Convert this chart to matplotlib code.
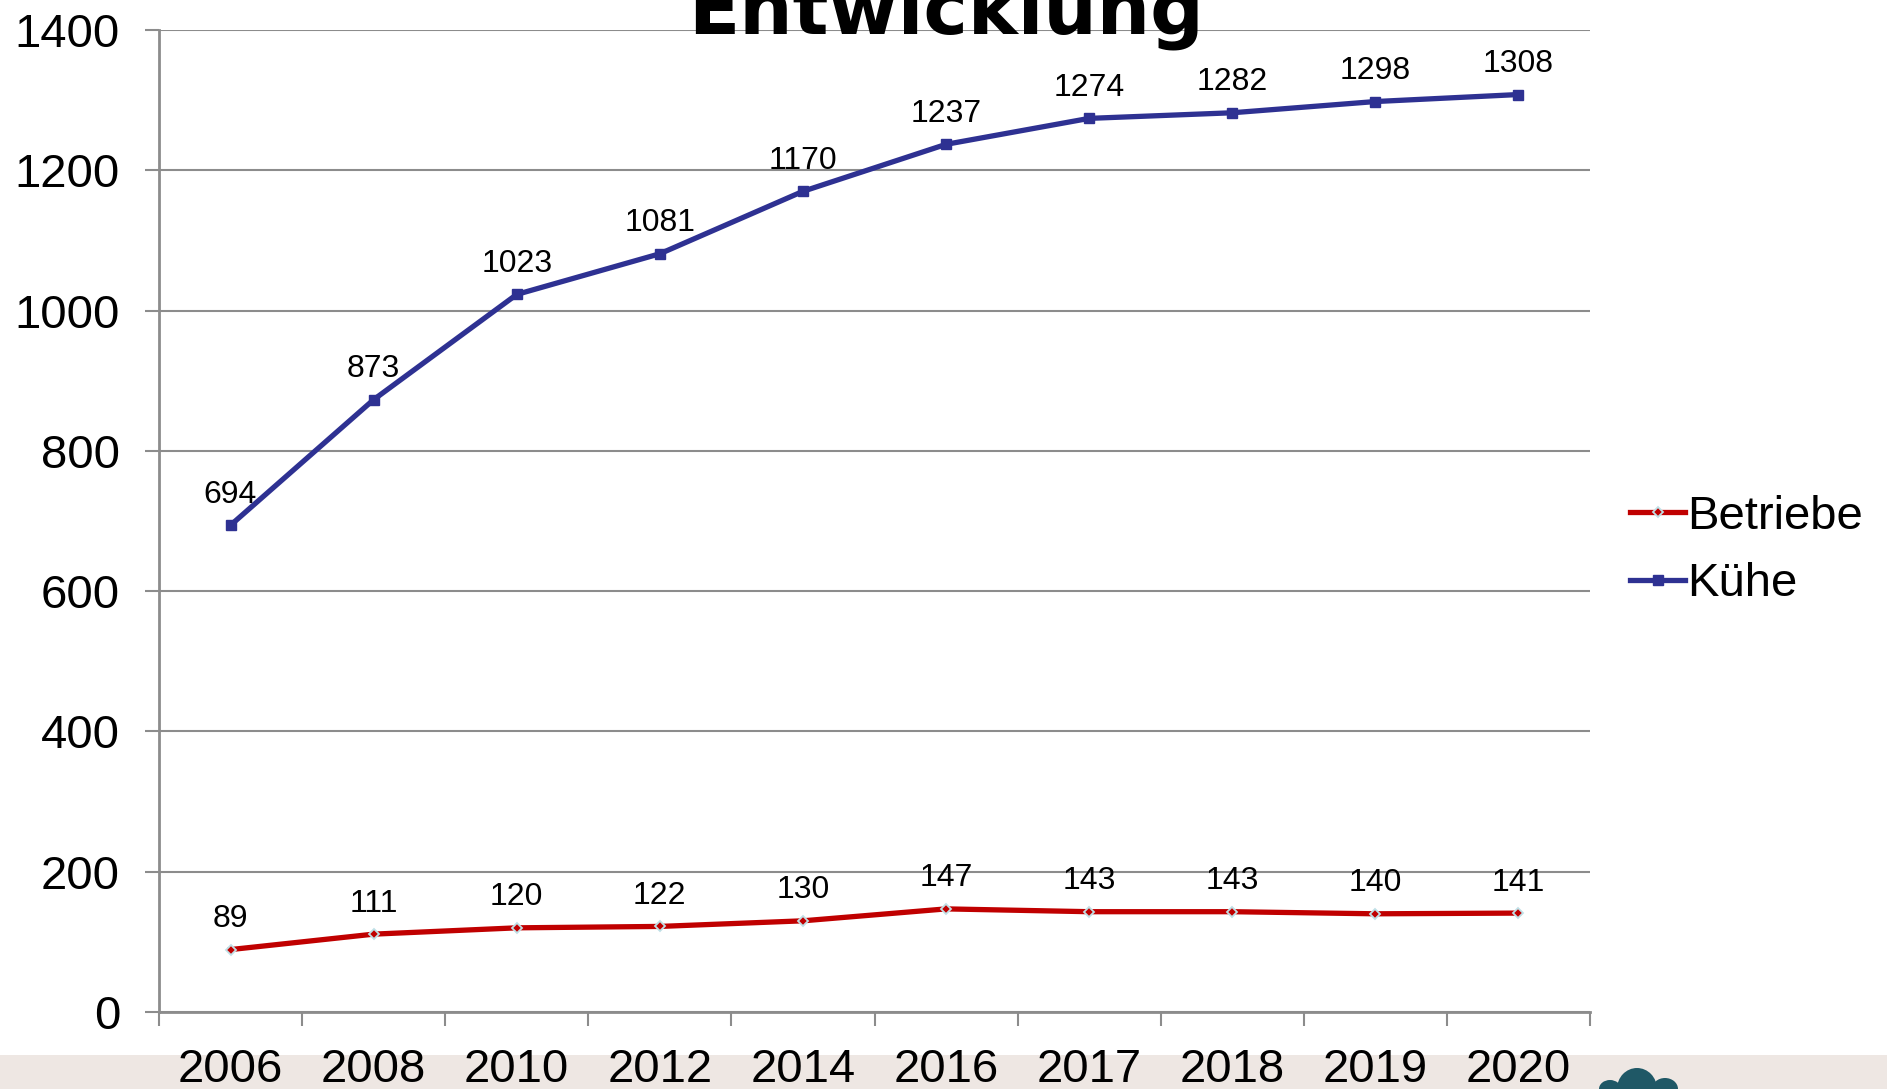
import matplotlib
matplotlib.use("Agg")
import matplotlib.pyplot as plt
from matplotlib.patches import Rectangle, Ellipse

plt.rcParams['font.family'] = ['Liberation Sans', 'DejaVu Sans']

years = ['2006', '2008', '2010', '2012', '2014', '2016', '2017', '2018', '2019', '2020']
betriebe = [89, 111, 120, 122, 130, 147, 143, 143, 140, 141]
kuehe = [694, 873, 1023, 1081, 1170, 1237, 1274, 1282, 1298, 1308]
y_ticks = [0, 200, 400, 600, 800, 1000, 1200, 1400]

red = '#C00000'
blue = '#2E3192'
grid_grey = '#8C8C8C'

fig = plt.figure(figsize=(18.87, 10.89), dpi=100)

# beige photo strip at the bottom + logo hint
fig.patches.append(Rectangle((0, 0), 1, 34 / 1089, transform=fig.transFigure,
                             facecolor='#EEE7E3', edgecolor='none', zorder=0))
for cx, cy, w, h in [(1637, 1089, 40, 42), (1610, 1089, 22, 18), (1665, 1089, 26, 22)]:
    fig.patches.append(Ellipse((cx / 1887, 1 - cy / 1089), w / 1887, h / 1089,
                               transform=fig.transFigure, facecolor='#1F5866',
                               edgecolor='none', zorder=1))

ax = fig.add_axes([159 / 1887, 1 - 1012 / 1089, (1590 - 159) / 1887, (1012 - 30) / 1089])
ax.set_facecolor('none')
ax.set_zorder(3)

x = list(range(len(years)))
ax.plot(x, betriebe, color=red, lw=3.8, marker='D', ms=5, mfc=red, mec='#BFE0E6',
        mew=1.3, label='Betriebe', zorder=3)
ax.plot(x, kuehe, color=blue, lw=3.8, marker='s', ms=6.5, mfc=blue, mec=blue,
        label='Kühe', zorder=3)

for xi, v in zip(x, betriebe):
    ax.annotate(str(v), (xi, v), xytext=(0, 22), textcoords='offset points',
                ha='center', va='center', fontsize=23, color='black')
for xi, v in zip(x, kuehe):
    ax.annotate(str(v), (xi, v), xytext=(0, 22), textcoords='offset points',
                ha='center', va='center', fontsize=23, color='black')

ax.set_xlim(-0.5, len(years) - 0.5)
ax.set_ylim(0, 1400)
ax.set_yticks(y_ticks)
ax.set_yticklabels([str(t) for t in y_ticks], fontsize=34)
ax.set_xticks(x)
ax.set_xticklabels(years, fontsize=34)
ax.set_xticks([i - 0.5 for i in range(len(years) + 1)], minor=True)
ax.tick_params(axis='x', which='major', length=0, pad=26)
ax.tick_params(axis='x', which='minor', length=10, width=1.5, color=grid_grey, direction='out')
ax.tick_params(axis='y', which='major', length=10, width=1.5, color=grid_grey, pad=18)

ax.grid(axis='y', color=grid_grey, lw=1.5)
ax.set_axisbelow(True)
for s in ['top', 'right']:
    ax.spines[s].set_visible(False)
for s in ['left', 'bottom']:
    ax.spines[s].set_color(grid_grey)
    ax.spines[s].set_linewidth(2)

ax.legend(loc='center left', bbox_to_anchor=(1.015, 0.47), frameon=False, fontsize=34,
          handlelength=1.15, handletextpad=0.05, labelspacing=0.5, borderaxespad=0)

fig.text(946 / 1887, 1 - 34 / 1089, 'Entwicklung', ha='center', va='baseline',
         fontsize=54, fontweight='bold', family=['DejaVu Sans'])

fig.savefig('out.png', dpi=100)
